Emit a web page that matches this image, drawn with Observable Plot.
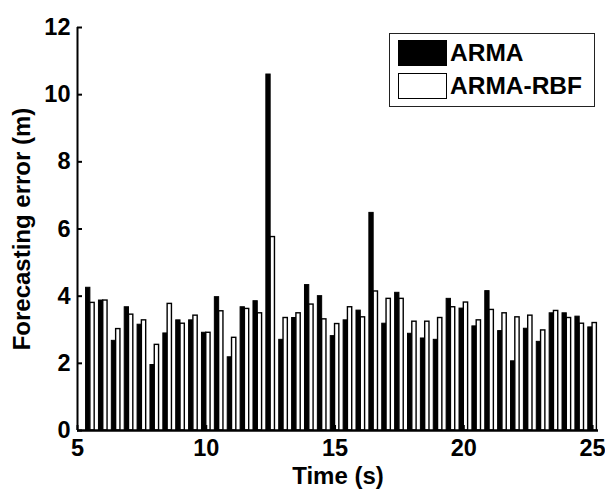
<!DOCTYPE html>
<html>
<head>
<meta charset="utf-8">
<script src="https://cdn.jsdelivr.net/npm/d3@7"></script>
<script src="https://cdn.jsdelivr.net/npm/@observablehq/plot@0.6"></script>
<style>
  html, body { margin: 0; padding: 0; background: #fff; }
  #wrap { position: relative; width: 605px; height: 492px; font-family: "Liberation Sans", Arial, Helvetica, sans-serif; font-weight: bold; }
  #legend { position: absolute; left: 389px; top: 33px; width: 204px; height: 72px; border: 1.5px solid #222; background: #fff; }
  .item { position: absolute; left: 8px; height: 26px; display: flex; align-items: center; }
  .sw { width: 47px; height: 24px; border: 1.5px solid #000; box-sizing: content-box; }
  .lab { font-size: 24.5px; margin-left: 3px; color: #000; line-height: 26px; }
</style>
</head>
<body>
<div id="wrap"></div>
<script>
const times = [5.5, 6, 6.5, 7, 7.5, 8, 8.5, 9, 9.5, 10, 10.5, 11, 11.5, 12, 12.5, 13, 13.5, 14, 14.5, 15,
               15.5, 16, 16.5, 17, 17.5, 18, 18.5, 19, 19.5, 20, 20.5, 21, 21.5, 22, 22.5, 23, 23.5, 24, 24.5, 25];
const arma = [4.25, 3.87, 2.67, 3.67, 3.15, 1.95, 2.89, 3.28, 3.28, 2.91, 3.97, 2.18, 3.67, 3.85, 10.6, 2.70, 3.35, 4.33, 4.00, 2.81,
              3.28, 3.57, 6.48, 3.18, 4.10, 2.88, 2.74, 2.70, 3.92, 3.63, 3.10, 4.15, 2.96, 2.06, 3.03, 2.64, 3.49, 3.49, 3.39, 3.07];
const armaRbf = [3.80, 3.87, 3.02, 3.45, 3.28, 2.55, 3.77, 3.18, 3.42, 2.91, 3.55, 2.76, 3.62, 3.49, 5.76, 3.35, 3.49, 3.75, 3.31, 3.17,
                 3.67, 3.37, 4.14, 3.92, 3.92, 3.24, 3.24, 3.35, 3.67, 3.81, 3.28, 3.59, 3.49, 3.37, 3.42, 2.98, 3.56, 3.35, 3.18, 3.20];
const seriesNames = ["ARMA", "ARMA-RBF"];
const xTicks = [5, 10, 15, 20, 25];
const yTicks = [0, 2, 4, 6, 8, 10, 12];
const xLabel = "Time (s)";
const yLabel = "Forecasting error (m)";

const barW = 0.167;
const rowsA = times.map((t, i) => ({t, v: arma[i]}));
const rowsB = times.map((t, i) => ({t, v: armaRbf[i]}));

const chart = Plot.plot({
  width: 605,
  height: 492,
  marginLeft: 77,
  marginRight: 7,
  marginTop: 27,
  marginBottom: 62,
  style: {fontFamily: '"Liberation Sans", Arial, Helvetica, sans-serif', fontWeight: "bold", fontSize: "23px", color: "#000", background: "#fff"},
  x: {domain: [5, 25.23]},
  y: {domain: [0, 12]},
  marks: [
    Plot.rectY(rowsA, {x1: d => d.t - barW, x2: d => d.t, y1: 0, y2: "v", fill: "#000", stroke: "#000", strokeWidth: 1}),
    Plot.rectY(rowsB, {x1: d => d.t, x2: d => d.t + barW, y1: 0, y2: "v", fill: "#fff", stroke: "#000", strokeWidth: 1.4}),
    Plot.axisY(yTicks, {tickSize: 0, tickPadding: 7, label: null, fontSize: 23.5}),
    Plot.axisY(yTicks, {tickSize: 5, dx: 5, text: null, label: null, strokeWidth: 2}),
    Plot.axisX(xTicks, {tickSize: 0, tickPadding: 9, label: null, fontSize: 23.5}),
    Plot.axisX(xTicks, {tickSize: 5, dy: -5, text: null, label: null, strokeWidth: 2}),
    Plot.ruleX([5], {stroke: "#000", strokeWidth: 2}),
    Plot.ruleY([0], {stroke: "#000", strokeWidth: 2.5}),
    Plot.text([yLabel], {frameAnchor: "left", textAnchor: "middle", lineAnchor: "middle", rotate: -90, dx: -55, fontSize: 24, fill: "#000"}),
    Plot.text([xLabel], {frameAnchor: "bottom", textAnchor: "middle", lineAnchor: "middle", dy: 46, fontSize: 24, fill: "#000"})
  ]
});

const wrap = document.getElementById("wrap");
wrap.appendChild(chart);

const legend = document.createElement("div");
legend.id = "legend";
seriesNames.forEach((name, i) => {
  const item = document.createElement("div");
  item.className = "item";
  item.style.top = (i === 0 ? 6 : 39) + "px";
  const sw = document.createElement("div");
  sw.className = "sw";
  sw.style.background = i === 0 ? "#000" : "#fff";
  const lab = document.createElement("span");
  lab.className = "lab";
  lab.textContent = name;
  item.appendChild(sw);
  item.appendChild(lab);
  legend.appendChild(item);
});
wrap.appendChild(legend);
</script>
</body>
</html>
